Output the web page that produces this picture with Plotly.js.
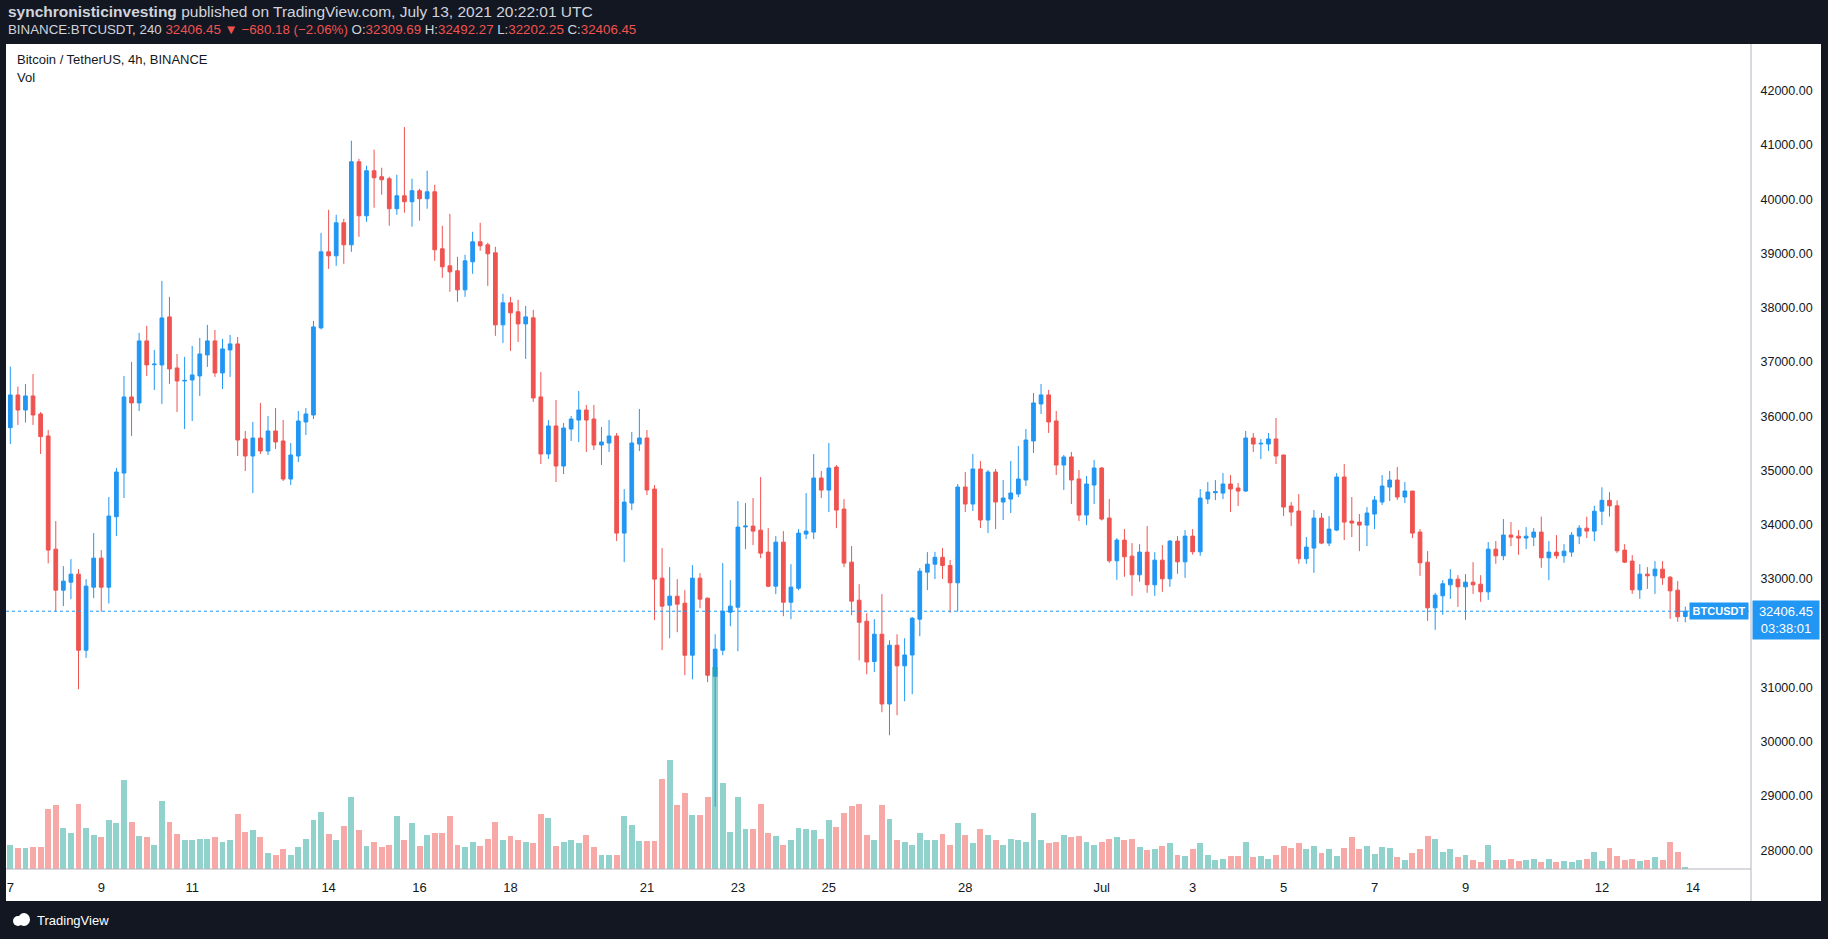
<!DOCTYPE html>
<html><head><meta charset="utf-8">
<script src="https://cdn.plot.ly/plotly-3.0.1.min.js"></script>
<style>html,body{margin:0;padding:0;background:#131722;overflow:hidden}#chart{width:1828px;height:939px}</style>
</head><body><div id="chart"></div>
<script>
// ---- data (4h candles, BINANCE:BTCUSDT) ----
const START_TIME = '2021-06-07T00:00:00Z';
const BAR_HOURS = 4;
const OPEN = [35790,36392,36115,36374,36042,35636,33551,32795,32942,33090,
31688,32850,33385,32850,34148,34953,36355,36245,37388,36950,
36946,37831,36890,36650,36669,36743,37130,37388,36798,37222,
37333,35580,35267,35599,35359,35728,35544,34843,35267,35894,
36023,37628,39030,38956,39565,39159,40690,39694,40524,40414,
40377,39824,40063,39953,40156,40008,40137,39086,38772,38680,
38329,38846,39215,39159,39012,37684,38090,37924,37702,37813,
36356,35304,35821,35082,35765,35930,36115,35949,35470,35507,
35636,33846,34400,35488,35599,34658,33016,32518,32684,32555,
31596,33016,32647,31209,31688,32389,32481,33960,33975,33901,
33496,32868,33680,32573,32831,33828,33865,34861,34639,35064,
34289,33311,32610,32223,31480,31983,30697,31780,31400,31600,
32260,33127,33274,33400,33250,32930,34695,34382,35027,34087,
34972,34419,34474,34566,34825,35544,36227,36393,35913,35101,
35249,34843,34179,34732,35046,34124,33336,33717,33422,33078,
33496,32893,33348,33004,33699,33317,33791,33502,34474,34590,
34584,34751,34677,34621,35599,35490,35488,35581,35286,34345,
34253,33373,33570,34123,33662,33902,34880,34068,34049,33994,
34197,34419,34695,34824,34511,34621,33865,33311,32469,32690,
32893,32998,32856,32942,32905,32764,33551,33428,33810,33790,
33754,33772,33865,33391,33496,33428,33496,33791,33938,33883,
34250,34450,34350,33533,33330,32801,33090,33059,33182,33034,
32795,32309.69];
const HIGH = [36915,36546,36595,36779,36078,35747,34068,33238,33367,33182,
32998,33846,33533,34511,35046,36743,37001,37536,37665,37222,
38495,38200,37148,37093,37296,37444,37683,37591,37425,37499,
37462,35728,35894,36245,36005,36152,35931,35507,36097,36152,
37757,39380,39805,39713,39639,41078,40746,40616,40912,40580,
40414,40451,41330,40377,40193,40525,40266,39510,39731,38938,
38975,39399,39565,39196,39123,38256,38200,38145,38034,37960,
36817,35931,36300,35876,36005,36466,36208,36208,35802,35931,
35691,34658,35710,36134,35746,34732,33570,33219,32998,32795,
33256,33109,32660,31983,33293,32979,34437,34400,34492,34879,
33938,33791,33883,33274,33920,34584,35303,34990,35506,35100,
34473,33606,32905,32370,32260,32721,31872,31983,31909,32300,
33201,33496,33500,33570,33350,34751,34972,35304,35175,35009,
35027,34824,35175,35452,35765,36430,36595,36485,36097,35286,
35341,35009,34898,35193,35064,34474,33754,33920,33662,33643,
33975,33496,33625,33717,33791,33902,33920,34658,34787,34824,
34953,34916,34769,35728,35691,35581,35691,35968,35290,34418,
34566,33773,34271,34216,34160,34953,35119,34511,34197,34326,
34529,34916,34990,35064,34787,34621,33920,33514,32746,32979,
33182,33071,33090,33311,33071,33680,33699,34105,34050,33902,
33957,33938,34150,33699,33809,33643,33865,33994,34150,34350,
34690,34600,34450,33643,33440,33274,33219,33330,33330,33053,
32961,32492.27];
const LOW = [35488,35839,35882,35839,35304,33287,32400,32500,32629,30969,
31547,32647,32400,32550,33791,34492,35636,36097,36743,36484,
36226,36595,36078,35765,35912,36374,36909,36724,36503,36724,
35267,34990,34584,35304,35285,35396,34806,34732,35156,35654,
35949,37600,38716,38772,38809,39030,39307,39583,39842,40082,
39510,39713,39750,39492,39602,39824,38864,38551,38293,38108,
38200,38625,39049,38403,37481,37352,37204,37370,37057,36263,
35120,35212,34788,34935,35544,35525,35341,35378,35101,35341,
33699,33311,34271,35359,34547,32242,31688,31909,32020,31227,
31153,32463,31098,28805,31596,32131,31670,33551,33625,33385,
32850,32721,32315,32260,32795,33736,33736,34492,34233,33938,
33219,32333,31500,31245,31287,30545,30120,30489,30747,30877,
31946,32795,33000,33000,32380,32400,34234,34253,33939,33847,
33921,34087,34216,34511,34714,35323,36042,35692,34917,34640,
34382,34068,33994,34382,34080,33299,32985,33041,32690,32950,
32746,32690,32764,32856,33096,33022,33450,33428,34381,34455,
34474,34234,34345,34603,35341,35212,35359,35119,34160,33976,
33281,33281,33114,33640,33606,33883,33717,33773,33514,33606,
33920,34363,34437,34455,34400,33754,33059,32229,32063,32340,
32635,32487,32247,32727,32580,32616,33281,33348,33606,33447,
33551,33606,33207,32979,33373,33299,33410,33643,33754,33699,
33994,34150,33480,33293,32727,32635,32819,32727,32893,32266,
32211,32202.25];
const CLOSE = [36392,36115,36374,36023,35624,33533,32795,32961,33090,31688,
32869,33385,32850,34160,34972,36355,36245,37388,36946,36960,
37812,36872,36650,36660,36761,37148,37388,36798,37241,37333,
35562,35267,35599,35359,35728,35525,34843,35285,35912,36042,
37646,39030,38956,39565,39159,40690,39694,40524,40395,40359,
39824,40063,39953,40156,40008,40137,39067,38754,38661,38329,
38864,39215,39141,38994,37684,38090,37905,37702,37831,36337,
35304,35821,35083,35783,35949,36115,35930,35470,35525,35636,
33846,34418,35507,35599,34640,32998,32500,32684,32537,31596,
33016,32629,31227,31707,32408,32500,33957,33975,33883,33477,
32868,33680,32573,32850,33846,33883,34861,34639,35045,34270,
33293,32592,32204,31470,31983,30697,31780,31400,31600,32278,
33145,33274,33400,33250,32930,34695,34382,35027,34087,34972,
34419,34492,34585,34843,35562,36245,36393,35894,35101,35249,
34825,34179,34751,35046,34105,33336,33717,33410,33078,33496,
32893,33348,33004,33699,33317,33791,33502,34492,34603,34610,
34751,34658,34621,35599,35488,35500,35581,35267,34326,34234,
33373,33588,34123,33662,33920,34880,34049,34031,33994,34216,
34455,34714,34824,34511,34621,33846,33299,32469,32703,32912,
32998,32856,32942,32893,32764,33551,33428,33810,33772,33754,
33790,33865,33391,33496,33428,33514,33809,33938,33883,34250,
34450,34350,33520,33311,32801,33090,33059,33182,33022,32782,
32303,32406.45];
const VOLUME = [8400,7200,7200,7600,7600,20400,22000,14000,12400,22400,
14000,11600,10800,16800,15600,30400,16000,11200,10800,8400,
23200,16000,12000,10000,10000,10400,10400,10800,9200,10000,
18800,12800,13200,10800,5600,4800,6800,4800,7600,10400,
16800,19600,12000,10000,14800,24800,13200,8000,9200,7600,
8400,18000,10000,15600,8000,11600,12400,12400,18000,8400,
7600,9200,8000,10400,16000,10000,11200,10000,9200,8800,
18800,17600,8000,9200,10000,8800,11600,7600,4800,4800,
4800,18000,15200,9600,9600,9600,30800,37200,22000,26000,
18400,18400,24800,69200,29600,12800,24800,13600,13600,22400,
12400,11200,8400,10000,14000,13600,13200,10400,16800,14400,
19200,21600,22400,11600,10000,22000,17200,10000,9200,8400,
12400,10000,10000,12000,8400,15600,11600,8800,13600,11600,
10000,8400,10400,10000,9200,19200,10000,8800,9200,11600,
10800,11200,9200,8400,9200,10400,10800,10000,10400,7600,
6400,6800,8000,8800,4800,4400,6800,8800,4800,3200,
3600,4400,4400,9200,4000,4400,3600,4800,8000,7200,
8800,6800,8000,5600,6800,4400,7200,10800,6800,8000,
5200,7600,7200,4000,3200,5600,6800,11200,10400,6000,
6800,4000,4800,3200,2400,8400,3200,3200,3600,2800,
3200,3600,2400,3600,2400,2800,2400,3200,3600,6000,
2800,7200,4400,3200,3600,2800,3200,4000,3200,9200,
6000,800];
const TICK_DATES = ['2021-06-07','2021-06-09','2021-06-11','2021-06-14','2021-06-16','2021-06-18',
  '2021-06-21','2021-06-23','2021-06-25','2021-06-28','2021-07-01','2021-07-03','2021-07-05',
  '2021-07-07','2021-07-09','2021-07-12','2021-07-14'];
const TICK_LABELS = ['7','9','11','14','16','18','21','23','25','28','Jul','3','5','7','9','12','14'];
const LAST_PRICE = 32406.45;
const COUNTDOWN = '03:38:01';
const SYMBOL = 'BTCUSDT';

// ---- geometry ----
const W = 1828, H = 939, ML = 6, MR = 77, MT = 44, MB = 70;
const PW = W - ML - MR, PH = H - MT - MB;
const px = v => (v - ML) / PW;
const py = v => (H - MB - v) / PH;
const BAR_MS = BAR_HOURS * 3600e3;
const t0 = Date.parse(START_TIME);
const fmt = ms => new Date(ms).toISOString().slice(0, 19).replace('T', ' ');
const TIMES = OPEN.map((_, i) => fmt(t0 + i * BAR_MS));
const upColor = '#2196F3', downColor = '#EF5350';
const volColors = CLOSE.map((c, i) => c >= OPEN[i] ? 'rgba(38,166,154,0.5)' : 'rgba(239,83,80,0.5)');

const xRange = [fmt(t0 - 0.567 * BAR_MS), fmt(t0 + 229.67 * BAR_MS)];
const FONT = 'Liberation Sans, Arial, sans-serif';

const volTrace = {
  type: 'bar', x: TIMES, y: VOLUME, yaxis: 'y2',
  marker: {color: volColors, line: {width: 0}},
  width: BAR_MS * 0.78, hoverinfo: 'skip'
};
const candleTrace = {
  type: 'candlestick', x: TIMES, open: OPEN, high: HIGH, low: LOW, close: CLOSE,
  increasing: {line: {color: upColor, width: 1}, fillcolor: upColor},
  decreasing: {line: {color: downColor, width: 1}, fillcolor: downColor},
  whiskerwidth: 0, hoverinfo: 'skip'
};

const red = s => `<span style="color:#ef5350">${s}</span>`;
const annotations = [
  {xref: 'paper', yref: 'paper', x: px(6), y: py(12), xanchor: 'left', yanchor: 'middle', showarrow: false,
   text: '<b>synchronisticinvesting</b> published on TradingView.com, July 13, 2021 20:22:01 UTC',
   font: {family: FONT, size: 15.5, color: '#d1d4dc'}},
  {xref: 'paper', yref: 'paper', x: px(6), y: py(29), xanchor: 'left', yanchor: 'middle', showarrow: false,
   text: 'BINANCE:BTCUSDT, 240 ' + red('32406.45 ▼ −680.18 (−2.06%)') + ' O:' + red('32309.69') +
         ' H:' + red('32492.27') + ' L:' + red('32202.25') + ' C:' + red('32406.45'),
   font: {family: FONT, size: 13.3, color: '#d1d4dc'}},
  {xref: 'paper', yref: 'paper', x: px(15), y: py(59), xanchor: 'left', yanchor: 'middle', showarrow: false,
   text: 'Bitcoin / TetherUS, 4h, BINANCE', font: {family: FONT, size: 13, color: '#131722'}},
  {xref: 'paper', yref: 'paper', x: px(15), y: py(77), xanchor: 'left', yanchor: 'middle', showarrow: false,
   text: 'Vol', font: {family: FONT, size: 13, color: '#131722'}},
  {xref: 'paper', yref: 'y', x: 1, y: LAST_PRICE, xanchor: 'left', yanchor: 'top', yshift: 11, xshift: 1,
   showarrow: false, text: LAST_PRICE.toFixed(2) + '<br>' + COUNTDOWN, align: 'center',
   bgcolor: upColor, borderpad: 3, width: 60, font: {family: FONT, size: 13, color: '#ffffff'}},
  {xref: 'paper', yref: 'y', x: 1, y: LAST_PRICE, xanchor: 'right', yanchor: 'middle', xshift: -2,
   showarrow: false, text: '<b>' + SYMBOL + '</b>', bgcolor: upColor, borderpad: 2, width: 54,
   font: {family: FONT, size: 11, color: '#ffffff'}},
  {xref: 'paper', yref: 'paper', x: px(35), y: py(920), xanchor: 'left', yanchor: 'middle', showarrow: false,
   text: 'TradingView', font: {family: FONT, size: 13, color: '#ffffff'}}
];

const shapes = [
  {type: 'rect', xref: 'paper', yref: 'paper', x0: 0, x1: px(1821), y0: py(901), y1: 1,
   fillcolor: '#ffffff', line: {width: 0}, layer: 'below'},
  {type: 'line', xref: 'paper', yref: 'paper', x0: 1, x1: 1, y0: py(901), y1: 1,
   line: {color: '#b2b5be', width: 1}},
  {type: 'line', xref: 'paper', yref: 'paper', x0: 0, x1: 1, y0: 0, y1: 0,
   line: {color: '#b2b5be', width: 1}},
  {type: 'line', xref: 'paper', yref: 'y', x0: 0, x1: 1, y0: LAST_PRICE, y1: LAST_PRICE,
   line: {color: upColor, width: 1, dash: 'dot'}},
  // small logo mark
  {type: 'circle', xref: 'paper', yref: 'paper', x0: px(13), x1: px(23), y0: py(926), y1: py(916),
   fillcolor: '#ffffff', line: {width: 0}},
  {type: 'circle', xref: 'paper', yref: 'paper', x0: px(18), x1: px(30), y0: py(926), y1: py(913),
   fillcolor: '#ffffff', line: {width: 0}}
];

const layout = {
  width: W, height: H,
  margin: {l: ML, r: MR, t: MT, b: MB, pad: 0},
  paper_bgcolor: '#131722', plot_bgcolor: '#ffffff',
  showlegend: false, dragmode: false, hovermode: false,
  font: {family: FONT, color: '#131722'},
  xaxis: {
    type: 'date', range: xRange, rangeslider: {visible: false},
    tickvals: TICK_DATES, ticktext: TICK_LABELS, showgrid: false, zeroline: false,
    ticks: 'outside', ticklen: 6, tickcolor: 'rgba(0,0,0,0)', showline: false,
    tickfont: {family: FONT, size: 13, color: '#131722'}, fixedrange: true
  },
  yaxis: {
    side: 'right', range: [27656, 42860], dtick: 1000, tick0: 0, tickformat: '.2f',
    showgrid: false, zeroline: false, showline: false,
    ticks: 'outside', ticklen: 6, tickcolor: 'rgba(0,0,0,0)',
    tickfont: {family: FONT, size: 12.5, color: '#131722'}, fixedrange: true
  },
  yaxis2: {
    overlaying: 'y', range: [0, 282800], visible: false, showgrid: false, fixedrange: true
  },
  bargap: 0,
  annotations: annotations, shapes: shapes
};

Plotly.newPlot('chart', [volTrace, candleTrace], layout, {staticPlot: true, displayModeBar: false});
</script>
</body></html>
